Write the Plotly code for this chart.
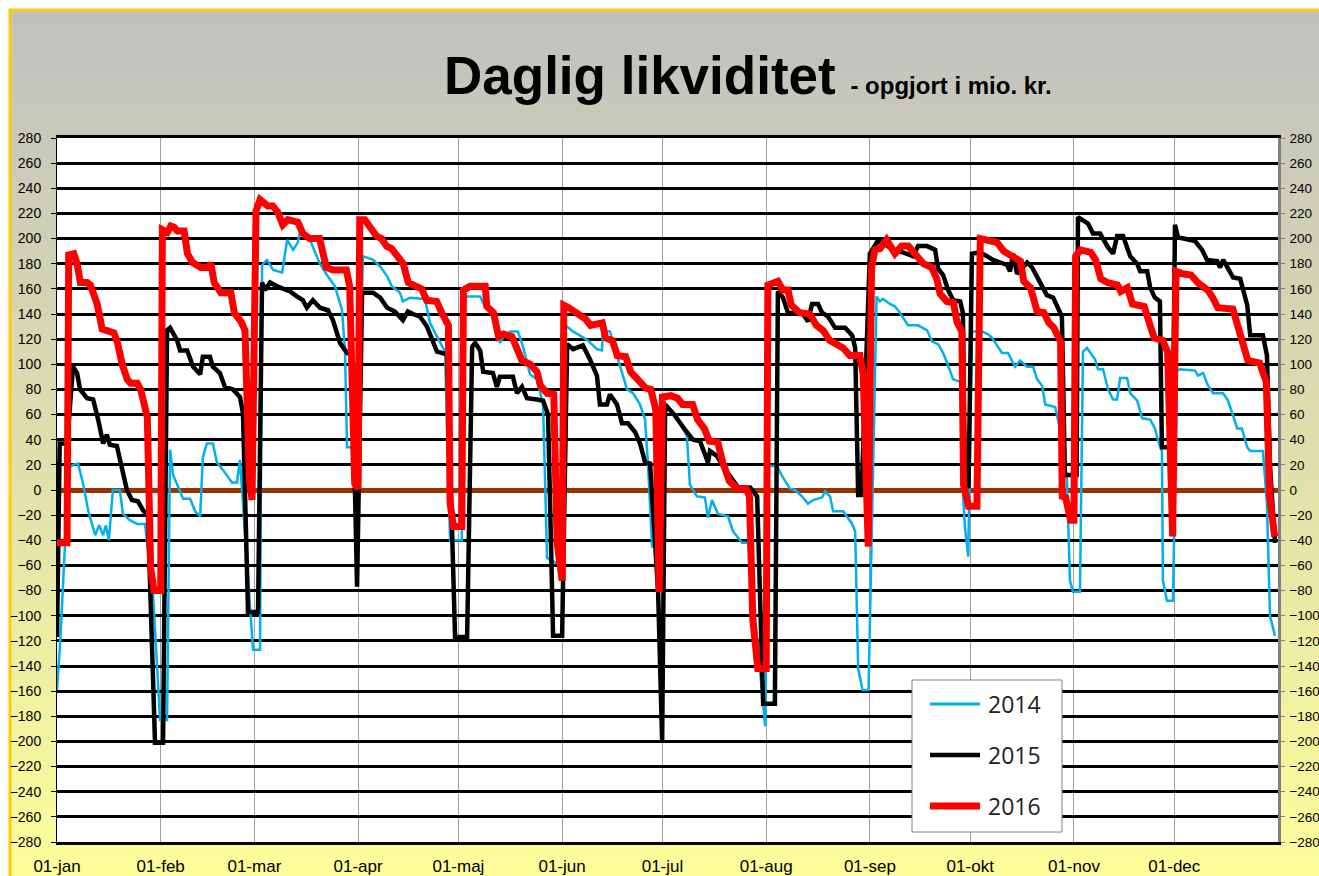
import plotly.graph_objects as go

# ---------------- data ----------------
month_days = [0, 31, 59, 90, 120, 151, 181, 212, 243, 273, 304, 334]
month_labels = ["01-jan", "01-feb", "01-mar", "01-apr", "01-maj", "01-jun",
                "01-jul", "01-aug", "01-sep", "01-okt", "01-nov", "01-dec"]

# (day of year, mio. kr.)
s2014 = [(0,-159),(1,-119),(3.5,17),(4.8,20),(6.3,21),(7.8,5),(9.3,-16),(11.4,-36),(12.6,-28),(13.8,-36),
         (14.6,-28),(15.5,-40),(16.7,0),(18.8,0),(19.7,-19),(21.8,-24),(23.9,-27),(26.3,-27),(28.7,-82),
         (30.8,-183),(32.9,-183),(33.8,32),(34.7,12),(36.2,3),(37.7,-7),(39.8,-7),(41.3,-17),(42.8,-21),
         (43.6,26),(44.8,37),(46.6,37),(47.8,22),(49.6,16),(52.3,6),(53.8,6),(54.7,24),(58.6,-127),
         (60.7,-127),(61.3,179),(62.8,183),(64.6,175),(67.3,173),(68.8,199),(70.6,191),(72,197),(72.6,205),
         (75.6,199),(78.6,180),(80.7,171),(83.1,162),(85.2,143),(86.1,111),(86.7,34),(88,34),(89.5,20),
         (91.5,186),(94.5,183),(96.6,178),(98.7,170),(100.1,162),(102.5,157),(103.4,150),(105.5,153),
         (110,152),(111.5,133),(113.6,122),(114.5,117),(116,110),(117.5,-40),(121,-40),(122,154),
         (126.5,154),(127.9,146),(130.3,143),(132.4,117),(133.3,121),(135.4,126),(137.8,126),(139.3,114),
         (141.4,92),(143.5,88),(145.3,68),(146.5,-54),(150.5,-60),(152,131),(154.3,126),(156.3,123),
         (158.7,119),(161.4,112),(162.9,111),(163.2,127),(165.3,126),(167.7,104),(170.4,80),(172.2,77),
         (174.3,68),(175.8,56),(176.7,19),(177.9,-45),(180,-45),(181.2,66),(185,60),(188.3,43),(189.2,4),
         (191.3,-5),(193.7,-6),(194.6,-22),(195.8,-8),(197.6,-19),(200.6,-21),(202.1,-33),(204.8,-42),
         (206.6,-42),(211.7,-188),(212.8,19),(215.2,19),(217,10),(219.1,1),(220.6,0),(222.7,-5),
         (224.5,-11),(226,-8),(228.7,-6),(229.6,-1),(231.1,-5),(232,-17),(235,-17),(237.7,-27),
         (238.6,-33),(239.5,-142),(240.8,-159),(242.6,-159),(245,154),(246,150),(246.9,152),(249,148),
         (250.5,146),(252,141),(254.4,131),(257.4,131),(260.1,127),(261.6,118),(263.4,116),(264.9,109),
         (266.1,101),(267.9,88),(270,86),(270.8,0),(271.4,-29),(272.4,-53),(273.5,126),(276.5,126),
         (278.3,124),(279.5,121),(282.5,109),(284.3,109),(286.4,98),(287.9,103),(290,98),(291.8,98),
         (293,88),(294.5,83),(295.4,68),(298.4,66),(299.8,49),(301.9,9),(302.8,-72),(303.7,-81),
         (305.8,-81),(306.7,110),(307.9,113),(309.4,107),(310.3,104),(311.2,96),(312.7,96),(314.2,80),
         (315.7,72),(316.9,72),(317.8,89),(319.9,89),(320.8,77),(322.9,71),(324.4,57),(326.8,56),
         (328.2,49),(329.1,40),(330.3,31),(330.6,-72),(331.8,-88),(333.6,-88),(334.8,95),(335.7,96),
         (340.2,95),(341.1,91),(342.6,93),(344.1,83),(345.6,77),(348.6,77),(350.1,71),(351.6,59),
         (352.8,49),(354.2,49),(355.8,34),(356.7,31),(360.5,31),(361.7,-11),(362.6,-100),(364.1,-116)]

s2015 = [(0,-117),(0.8,37),(3,37),(4.8,98),(6,93),(6.9,80),(9,73),(10.8,72),(12.3,56),(13.8,37),
         (14.9,44),(15.8,36),(17.9,35),(18.8,24),(20.9,0),(22.4,-8),(24.2,-9),(25.7,-16),(27.2,-21),
         (29.3,-201),(31.7,-201),(32.9,127),(33.8,129),(35.9,119),(36.8,111),(38.9,111),(40.7,98),
         (42.8,92),(43.6,106),(45.7,106),(46.6,98),(48.7,93),(50.2,82),(52.6,80),(54.7,74),(55.6,61),
         (56.2,0),(57.1,-97),(60.1,-97),(61.3,165),(62.2,159),(63.7,165),(65.8,162),(67.6,160),
         (69.7,158),(71.7,154),(73.5,151),(74.7,145),(76.5,151),(78.6,145),(81,143),(82.5,135),
         (84.6,117),(86.7,109),(88.2,108),(89.7,-77),(91.2,157),(94.5,157),(96.6,153),(98.7,145),
         (101,142),(103.4,135),(104.9,142),(106.4,140),(108.5,138),(110.6,130),(112.4,117),(113.6,110),
         (116.6,108),(118.1,-16),(119,-117),(122.6,-117),(124.1,114),(125,117),(126.5,111),(127.4,94),
         (130.3,93),(131.5,82),(132.4,90),(136.3,90),(137.5,77),(139,82),(140.5,73),(143.5,72),
         (145.3,71),(146.8,60),(148.3,-116),(151,-116),(152.5,116),(154.3,112),(157.2,115),(159.3,104),
         (161.4,91),(162.3,68),(164.4,68),(165.3,76),(167.4,68),(168.9,53),(170.7,53),(172.8,46),
         (174.3,37),(175.8,22),(177.3,21),(179.7,-81),(180.9,-200),(181.8,68),(184.2,61),(187.7,48),
         (190.1,40),(192.2,39),(193.7,28),(194.6,22),(195.2,31),(197.3,27),(199.1,19),(202.1,7),
         (203.6,2),(207.2,2),(209.3,-5),(211.1,-170),(214.6,-170),(215.5,158),(217,153),(218.5,141),
         (223,140),(224.5,134),(225.7,148),(227.5,148),(228.7,141),(230.5,138),(232.6,129),(235.6,129),
         (237.7,123),(238.6,113),(239.5,-4),(240.5,-4),(243,188),(245.1,197),(246.9,197),(249.9,191),
         (252.9,189),(255.9,186),(257.4,194),(260.1,194),(262.5,191),(263.4,176),(264.9,171),(266.4,159),
         (267.9,151),(270,150),(270.8,141),(271.4,4),(272.5,2),(273.5,188),(275.9,189),(278,186),
         (279.8,183),(284,179),(284.9,174),(285.8,188),(287,172),(290,181),(291.5,177),(293.9,165),
         (295.9,155),(297.8,153),(299,146),(300.4,138),(301.3,12),(304.8,12),(305.2,217),(308.2,212),
         (309.7,204),(311.8,204),(314.2,193),(315.7,188),(316.9,202),(318.7,202),(320.8,186),(322.9,180),
         (323.8,174),(325.9,174),(326.8,161),(328.2,153),(329.7,150),(330.3,34),(333.5,34),(334.2,211),
         (335.1,201),(337.8,199),(340.2,198),(342.3,191),(343.8,183),(346.8,182),(347.7,177),(348.6,183),
         (350.1,176),(351.6,169),(353.7,168),(355.8,147),(356.7,123),(360.5,123),(361.7,107),(362.6,19),
         (364.1,-42)]

s2016 = [(0,-42),(3,-42),(3.5,187),(5,188),(6,180),(7,165),(9,165),(10,163),(12,148),(13.5,128),
         (17,125),(18,118),(19.5,100),(21,88),(22,85),(24,85),(25,80),(27,58),(28,-62),(29,-80),(31,-80),
         (31.5,207),(33,205),(34,210),(35,209),(36,206),(38,206),(39,188),(40.5,181),(43,177),(45,177),
         (46,180),(47,165),(49,157),(52,157),(53,141),(55,134),(56.2,127),(57.5,10),(58.3,-8),(59.5,222),
         (60.7,231),(63,226),(64.5,226),(66,221),(67.5,211),(69,215),(72,213),(73.5,204),(75.5,200),
         (78.5,200),(80.5,177),(82.5,175),(86.5,175),(87.5,162),(89,5),(90,1),(90.5,215),(92,215),
         (94,207),(95.5,202),(97,200),(98.5,194),(100,192),(101.5,186),(103.5,180),(105,165),(107,163),
         (109,160),(110.5,151),(113.5,150),(115,141),(117,131),(117.5,-10),(118.5,-29),(121,-29),
         (121.5,159),(123.5,162),(128,162),(128.5,146),(130.5,141),(132,122),(133.5,124),(136,122),
         (137.5,111),(139,103),(141.5,100),(143.5,94),(144.5,83),(146.5,77),(148.5,76),(149.5,-42),
         (151,-72),(151.5,147),(153,145),(155.5,141),(158,136),(159.5,131),(163,133),(164,121),(166,119),
         (167.5,107),(170,106),(171.5,94),(173.5,88),(176,81),(177.5,80),(179,64),(180,-81),(181,74),
         (183.5,75),(185.5,73),(187,68),(190,68),(191.5,56),(193.5,49),(195,39),(197.5,38),(199,22),
         (201,7),(203.5,1),(206,1),(207,-5),(208,-103),(209.5,-142),(212,-142),(212.5,163),(214,165),
         (215.5,166),(217,159),(218.5,159),(219.5,147),(222,141),(225,140),(227,131),(229,127),(231,119),
         (233,116),(235,113),(237,107),(240,107),(241,92),(242.5,-45),(243.5,177),(244.5,191),(246,192),
         (248,199),(250.5,188),(252.5,194),(254.5,194),(257,186),(259,180),(261.5,177),(263,168),
         (264,156),(266,150),(268,149),(269,134),(270.5,126),(271,4),(272.5,-13),(275,-13),(276,200),
         (278,199),(281,197),(283,190),(286,185),(288,182),(289,166),(291,161),(293,142),(295,141),
         (296.5,133),(298,129),(300,118),(300.5,-5),(301.5,-6),(303,-24),(304,-24),(304.5,186),(306,191),
         (309,189),(310.5,183),(312,168),(314,165),(317,163),(318,158),(320,161),(321.5,148),(325,146),
         (327,129),(328,121),(330.5,119),(332,110),(333.5,-37),(334.5,174),(336.5,172),(339,171),
         (341,165),(344,159),(345.5,153),(347,145),(351.5,144),(353,131),(354.5,118),(356,103),
         (359.5,101),(361.5,86),(362.5,-5),(363.5,-34),(364,-37)]

series = [("2014", s2014, "#00B0F0", 2.5), ("2015", s2015, "#000000", 4.5), ("2016", s2016, "#FF0000", 7)]

# ---------------- geometry (page pixels) ----------------
W, H = 1319, 876
PL, PR, PT, PB = 57, 1278, 138, 842      # plot area in page pixels


def px(x):
    return (x - PL) / (PR - PL)


def py(y):
    return (PB - y) / (PB - PT)


fig = go.Figure()
for name, pts, col, lw in series:
    xs = [p[0] for p in pts]
    ys = [p[1] for p in pts]
    fig.add_trace(go.Scatter(x=xs, y=ys, mode="lines", name=name,
                             line=dict(color=col, width=lw), showlegend=False))
# carrier for the right-hand axis
fig.add_trace(go.Scatter(x=[0], y=[0], yaxis="y2", mode="none", showlegend=False, hoverinfo="skip"))

shapes = []
# gradient background (gray -> light yellow)
top, bot = 10, 900
n = 60
c0 = (192, 192, 192)
c1 = (255, 255, 153)
for i in range(n):
    y0 = top + (bot - top) * i / n
    y1 = top + (bot - top) * (i + 1) / n + 1
    t = (i + 0.5) / n
    c = tuple(int(round(c0[k] + (c1[k] - c0[k]) * t)) for k in range(3))
    shapes.append(dict(type="rect", xref="paper", yref="paper", layer="below",
                       x0=px(10), x1=px(1330), y0=py(y1), y1=py(y0),
                       fillcolor="rgb(%d,%d,%d)" % c, line=dict(width=0)))
# white plot area
shapes.append(dict(type="rect", xref="paper", yref="paper", layer="below",
                   x0=0, x1=1, y0=0, y1=1, fillcolor="white", line=dict(width=0)))
# gold frame
shapes.append(dict(type="rect", xref="paper", yref="paper", layer="below",
                   x0=px(10), x1=px(1340), y0=py(920), y1=py(10),
                   fillcolor="rgba(0,0,0,0)", line=dict(color="#FFCC00", width=3)))

# legend box
shapes.append(dict(type="rect", xref="paper", yref="paper", layer="above",
                   x0=px(912), x1=px(1062), y0=py(832), y1=py(680),
                   fillcolor="white", line=dict(color="#808080", width=1)))
annotations = []
for (name, pts, col, lw), yy in zip(series, [704, 755, 806]):
    shapes.append(dict(type="line", xref="paper", yref="paper", layer="above",
                       x0=px(930), x1=px(980), y0=py(yy), y1=py(yy),
                       line=dict(color=col, width=lw if lw > 3 else 3)))
    annotations.append(dict(xref="paper", yref="paper", x=px(986), y=py(yy),
                            xanchor="left", yanchor="middle", showarrow=False,
                            text=name, font=dict(family="Open Sans", size=23, color="#222222")))

# title
annotations.append(dict(xref="paper", yref="paper", x=px(442), y=py(76),
                        xanchor="left", yanchor="middle", showarrow=False,
                        text="<b>Daglig likviditet </b><b><span style='font-size:24px'>- opgjort i mio. kr.</span></b>",
                        font=dict(family="Liberation Sans, Arial", size=53, color="black")))

tickfont = dict(family="Liberation Sans, Arial", size=14, color="black")

fig.update_layout(
    width=W, height=H,
    margin=dict(l=PL, r=W - PR, t=PT, b=H - PB, pad=0),
    paper_bgcolor="white",
    plot_bgcolor="white",
    showlegend=False,
    shapes=shapes,
    annotations=annotations,
    xaxis=dict(range=[0, 365], tickmode="array", tickvals=month_days, ticktext=month_labels,
               showgrid=True, gridcolor="#A0A0A0", gridwidth=1, zeroline=False,
               showline=True, mirror=True, linecolor="black", linewidth=3, ticks="",
               tickfont=dict(family="Liberation Sans, Arial", size=17, color="black"),
               ticklabelstandoff=7, automargin=False, fixedrange=True),
    yaxis=dict(range=[-280, 280], tickmode="linear", tick0=0, dtick=20,
               showgrid=True, gridcolor="black", gridwidth=2.5,
               zeroline=True, zerolinecolor="#993300", zerolinewidth=5,
               showline=True, linecolor="black", linewidth=1,
               ticks="outside", ticklen=5, tickcolor="black", tickwidth=1,
               tickfont=tickfont, ticklabelstandoff=7, automargin=False, fixedrange=True),
    yaxis2=dict(range=[-280, 280], tickmode="linear", tick0=0, dtick=20, overlaying="y", side="right",
                showgrid=False, zeroline=False, showline=True, linecolor="#808080", linewidth=2.5,
                ticks="outside", ticklen=4, tickcolor="#808080", tickwidth=1,
                tickfont=dict(family="Liberation Sans, Arial", size=13.5, color="black"),
                ticklabelstandoff=2, automargin=False, fixedrange=True),
)

fig.write_html("out.html", config={"displayModeBar": False},
               post_script="document.body.style.margin='0px';document.body.style.overflow='hidden';")
